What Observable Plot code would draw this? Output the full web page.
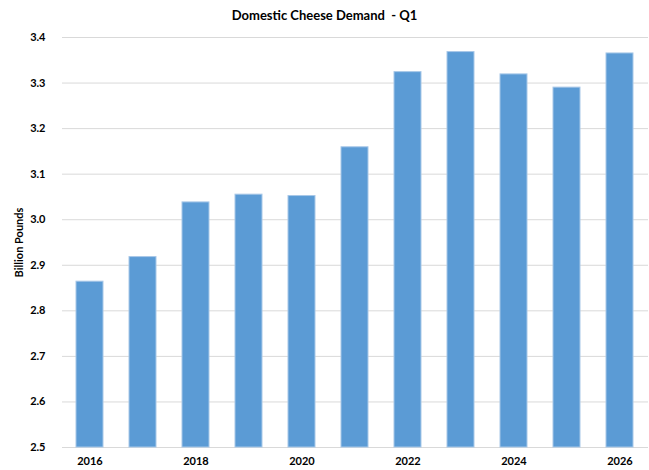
<!DOCTYPE html>
<html>
<head>
<meta charset="utf-8">
<script src="https://cdn.jsdelivr.net/npm/d3@7"></script>
<script src="https://cdn.jsdelivr.net/npm/@observablehq/plot@0.6"></script>
<style>
  body { margin: 0; background: #fff; font-family: Lato, "Open Sans", sans-serif; }
  #title { height: 28px; line-height: 30px; text-align: center; font-size: 13px; font-weight: bold; color: #000; width: 649px; }
</style>
</head>
<body>
<div id="title">Domestic Cheese Demand&nbsp; - Q1</div>
<div id="chart"></div>
<script>
const years = [2016, 2017, 2018, 2019, 2020, 2021, 2022, 2023, 2024, 2025, 2026];
const demand = [2.864, 2.918, 3.038, 3.055, 3.052, 3.159, 3.324, 3.368, 3.319, 3.290, 3.365];
const yTicks = [2.5, 2.6, 2.7, 2.8, 2.9, 3.0, 3.1, 3.2, 3.3, 3.4];
const xTickYears = [2016, 2018, 2020, 2022, 2024, 2026];
const yLabel = "Billion Pounds";

const data = years.map((y, i) => ({year: y, value: demand[i]}));

const chart = Plot.plot({
  width: 649,
  height: 442,
  marginTop: 9,
  marginBottom: 23,
  marginLeft: 62,
  marginRight: 1,
  style: {fontFamily: "Lato, 'Open Sans', sans-serif", fontSize: "11px", fontWeight: "bold", color: "#000"},
  x: {type: "band", domain: years, paddingInner: 0.49, paddingOuter: 0.245, label: null},
  y: {domain: [2.5, 3.4], label: null},
  marks: [
    Plot.gridY(yTicks, {stroke: "#d9d9d9", strokeOpacity: 1, strokeWidth: 1}),
    Plot.barY(data, {x: "year", y1: 2.5, y2: "value", fill: "#5b9bd5", stroke: "#a8c8e8", strokeWidth: 1}),
    Plot.axisY(yTicks, {tickSize: 0, tickPadding: 17, tickFormat: d3.format(".1f"), label: yLabel, labelAnchor: "center", labelOffset: 47, labelArrow: "none"}),
    Plot.axisX(xTickYears, {tickSize: 0, tickPadding: 10, tickFormat: d => String(d), label: null})
  ]
});
document.getElementById("chart").appendChild(chart);
</script>
</body>
</html>
